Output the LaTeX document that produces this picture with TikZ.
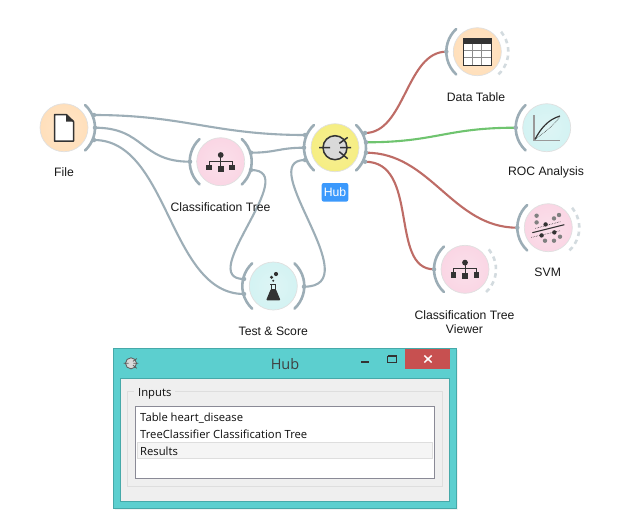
\documentclass[tikz,border=0pt]{standalone}
\usepackage{fontspec}
\setmainfont{Liberation Sans}
\newfontfamily\winfont{Open Sans}
\usetikzlibrary{backgrounds}
\definecolor{chan}{HTML}{9CADB6}
\definecolor{chanoff}{HTML}{D3DBDF}
\definecolor{lgrey}{HTML}{9DAEB7}
\definecolor{lred}{HTML}{BE6C66}
\definecolor{lgreen}{HTML}{6FC46F}
\definecolor{ink}{HTML}{333333}
\definecolor{winteal}{HTML}{5CCFCF}
\definecolor{winedge}{HTML}{46A9A9}
\definecolor{winbody}{HTML}{EFEFEF}
\definecolor{winline}{HTML}{DEDEDE}
\definecolor{listedge}{HTML}{8A8A96}
\definecolor{rowfill}{HTML}{F5F5F5}
\definecolor{closered}{HTML}{C75050}
\definecolor{hubblue}{HTML}{3B99FC}
\pgfdeclareradialshading{glowOrange}{\pgfpoint{0bp}{0bp}}{rgb(0bp)=(1,.90,.79); rgb(30bp)=(1,.87,.72); rgb(50bp)=(1,.79,.57); rgb(100bp)=(1,.79,.57)}
\pgfdeclareradialshading{glowPink}{\pgfpoint{0bp}{0bp}}{rgb(0bp)=(.98,.88,.92); rgb(30bp)=(.98,.83,.89); rgb(50bp)=(.97,.72,.82); rgb(100bp)=(.97,.72,.82)}
\pgfdeclareradialshading{glowTeal}{\pgfpoint{0bp}{0bp}}{rgb(0bp)=(.87,.96,.96); rgb(30bp)=(.82,.95,.95); rgb(50bp)=(.71,.92,.93); rgb(100bp)=(.71,.92,.93)}
\pgfdeclareradialshading{glowYellow}{\pgfpoint{0bp}{0bp}}{rgb(0bp)=(.97,.94,.58); rgb(30bp)=(.96,.93,.50); rgb(50bp)=(.94,.90,.36); rgb(100bp)=(.94,.90,.36)}
\tikzset{
  widget/.style={circle,minimum size=48pt,inner sep=0pt,draw=black!12,line width=.7pt,shading=#1},
  chanarc/.style={draw=chan,line width=2.6pt,line cap=round},
  chanidle/.style={draw=chanoff,line width=2.6pt,dash pattern=on 4.5pt off 4pt},
  port/.style={circle,fill=chan,minimum size=4.5pt,inner sep=0pt},
  lk/.style={line width=2.1pt,draw=#1},
  wlabel/.style={font=\fontsize{12.2}{14.4}\selectfont,text=black!90,align=center,inner sep=0pt},
  wintext/.style={font=\winfont\fontsize{11.25}{13}\selectfont,text=black!95,inner sep=0pt,anchor=base west},
}
% arcs around a widget: left / right / right idle
\newcommand{\leftchan}[1]{\draw[chanarc] ([shift={(133:31pt)}]#1.center) arc[start angle=133,end angle=227,radius=31pt];}
\newcommand{\rightchan}[1]{\draw[chanarc] ([shift={(-47:31pt)}]#1.center) arc[start angle=-47,end angle=47,radius=31pt];}
\newcommand{\idlechan}[1]{\draw[chanidle] ([shift={(-47:31pt)}]#1.center) arc[start angle=-47,end angle=47,radius=31pt];}
\newcommand{\treeicon}[1]{\begin{scope}[shift={(#1.center)}]
  \draw[ink,line width=.9pt] (0,-6.7) -- (0,7) (-11.5,5.7) -- (-11.5,-.7) -- (11.5,-.7) -- (11.5,5.7);
  \fill[ink] (0,-6.7) circle (2.9pt);
  \foreach \px/\py in {-11.5/5.7,0/7,11.5/5.7}{\fill[ink] (\px-2.9,\py-2.9) rectangle (\px+2.9,\py+2.9);}
\end{scope}}
\begin{document}
\begin{tikzpicture}[x=1pt,y=-1pt]
\useasboundingbox (0,0) rectangle (631,520);
% widgets
\node[widget=glowOrange] (file) at (64,127.7) {};
\node[widget=glowPink] (tree) at (220.7,161.7) {};
\node[widget=glowYellow] (hub) at (335,147.7) {};
\node[widget=glowOrange] (table) at (477.3,51.7) {};
\node[widget=glowTeal] (roc) at (546.7,127.7) {};
\node[widget=glowPink] (svm) at (548.3,227.7) {};
\node[widget=glowPink] (viewer) at (465,269.3) {};
\node[widget=glowTeal] (test) at (273.3,286) {};
% channels
\rightchan{file}
\leftchan{tree}\rightchan{tree}
\leftchan{hub}\rightchan{hub}
\leftchan{table}\idlechan{table}
\leftchan{roc}
\leftchan{svm}\idlechan{svm}
\leftchan{viewer}\idlechan{viewer}
\leftchan{test}\rightchan{test}
% ports
\node[port] (fileA) at (94,115) {};
\node[port] (fileB) at (95,127.7) {};
\node[port] (fileC) at (94,140) {};
\node[port] (treeIn) at (190,161.7) {};
\node[port] (treeA) at (251,152.7) {};
\node[port] (treeB) at (251,170) {};
\node[port] (hubA) at (305,135) {};
\node[port] (hubB) at (304,147.7) {};
\node[port] (hubC) at (305,160) {};
\node[port] (hubP) at (365,133) {};
\node[port] (hubQ) at (366,142.3) {};
\node[port] (hubR) at (366,152.7) {};
\node[port] (hubS) at (365,161.7) {};
\node[port] (testA) at (244,279) {};
\node[port] (testB) at (244,294) {};
\node[port] (testOut) at (304,286.7) {};
\node[port] (tableIn) at (446.3,51.7) {};
\node[port] (rocIn) at (515.7,127.7) {};
\node[port] (svmIn) at (517.3,227.7) {};
\node[port] (viewerIn) at (434,269.3) {};
% connectors
\begin{scope}[on background layer]
\fill[white] (0,0) rectangle (631,520);
\draw[lk=lgrey] (fileA.center) .. controls +(90,0) and +(-90,0) .. (hubA.center);
\draw[lk=lgrey] (fileB.center) .. controls +(50,0) and +(-50,0) .. (treeIn.center);
\draw[lk=lgrey] (fileC.center) .. controls +(75,0) and +(-75,0) .. (testB.center);
\draw[lk=lgrey] (treeA.center) .. controls +(25,0) and +(-25,0) .. (hubB.center);
\draw[lk=lgrey] (treeB.center) .. controls +(52,0) and +(-50,0) .. (testA.center);
\draw[lk=lgrey] (testOut.center) .. controls +(66,0) and +(-52,0) .. (hubC.center);
\draw[lk=lred] (hubP.center) .. controls +(40,0) and +(-40,0) .. (tableIn.center);
\draw[lk=lgreen] (hubQ.center) .. controls +(70,0) and +(-70,0) .. (rocIn.center);
\draw[lk=lred] (hubR.center) .. controls +(65,0) and +(-65,0) .. (svmIn.center);
\draw[lk=lred] (hubS.center) .. controls +(55,0) and +(-45,0) .. (viewerIn.center);
\end{scope}
% file icon
\begin{scope}[shift={(file.center)}]
  \draw[ink,fill=white,line width=1.5pt,line join=round] (-9.5,-13) -- (2.5,-13) -- (9.5,-6.2) -- (9.5,13.3) -- (-9.5,13.3) -- cycle;
  \fill[ink] (2.2,-13) -- (9.5,-6.2) -- (2.2,-6.2) -- cycle;
\end{scope}
% tree icons
\treeicon{tree}\treeicon{viewer}
% hub icon
\begin{scope}[shift={(hub.center)}]
  \draw[ink,fill=black!15,line width=1.5pt] (0,0) circle (12pt);
  \draw[ink,line width=1.5pt] (-16,0) -- (-5,0) (5,0) -- (16,0) (4.3,-4.3) -- (12.7,-10.3) (4.3,4) -- (12.7,11);
\end{scope}
% table icon
\begin{scope}[shift={(table.center)}]
  \fill[white] (-13.7,-13.4) rectangle (13.7,13.3);
  \draw[black!45,line width=.6pt] (-4.6,-8) -- (-4.6,13) (4.4,-8) -- (4.4,13) (-13.5,-1) -- (13.5,-1) (-13.5,6) -- (13.5,6);
  \draw[ink,line width=1pt] (-13.7,-13.4) rectangle (13.7,13.3);
  \fill[ink] (-13.7,-13.4) rectangle (13.7,-7.7);
\end{scope}
% ROC icon
\begin{scope}[shift={(roc.center)}]
  \draw[black!40,line width=1.1pt] (-12.7,-12.7) -- (-12.7,13) -- (13.3,13);
  \draw[ink,line width=.6pt,densely dotted] (-11.7,11.6) .. controls (-3,5) and (6,-1) .. (12.8,-10.5);
  \draw[ink,line width=1.2pt] (-11.7,11.6) .. controls (-6,1) and (1,-8) .. (13.3,-11.7);
\end{scope}
% SVM icon
\begin{scope}[shift={(svm.center)}]
  \foreach \px/\py in {-11.7/-12,-11.7/-5.3,5.7/-9.3,10.7/-12.7,-3.3/13,5.7/13,11.7/9}{\fill[black!50] (\px,\py) circle (2.2pt);}
  \foreach \px/\py in {-2.7/-3.3,-6.7/7.7,6/4.7}{\fill[ink] (\px,\py) circle (2.2pt);}
  \draw[ink,line width=1.1pt] (-16,5) -- (16,-3);
  \draw[ink,line width=.6pt,densely dotted] (-13,.7) -- (12,-6);
  \draw[ink,line width=.6pt,densely dotted] (-17,9.7) -- (12,3);
\end{scope}
% flask icon
\begin{scope}[shift={(test.center)}]
  \fill[ink] (-1.7,-8.7) circle (1.7pt);
  \fill[ink] (2.7,-12) circle (2.1pt);
  \fill[ink] (0,-5.3) circle (1.1pt);
  \draw[ink,line width=1pt] (-3,-1.5) -- (3,-1.5);
  \draw[ink,line width=1pt] (-2,-1.5) -- (-2,4) (2,-1.5) -- (2,4);
  \fill[ink,rounded corners=1pt] (-2.5,3) -- (2.5,3) -- (7.2,14.3) -- (-7.2,14.3) -- cycle;
\end{scope}
% captions
\node[wlabel] (capFile) at (64,172) {File};
\node[wlabel] (capTree) at (220.5,206.7) {Classification Tree};
\node[wlabel] (capTable) at (476,96.7) {Data Table};
\node[wlabel] (capRoc) at (546,172.7) {ROC Analysis};
\node[wlabel] (capSvm) at (547.7,272.7) {SVM};
\node[wlabel] (capViewer) at (464.5,322) {Classification Tree\\Viewer};
\node[wlabel] (capTest) at (273.3,331.7) {Test \& Score};
\node[fill=hubblue,rounded corners=2pt,minimum width=26.6pt,minimum height=18.6pt,inner sep=0pt,text=white,font=\fontsize{12.2}{14.4}\selectfont] (capHub) at (335,192.3) {Hub};
% window
\fill[black!5] (115,350) rectangle (458,510);
\draw[winedge,fill=winteal,line width=1pt] (113.5,348.5) rectangle (456,508);
\draw[winedge,fill=winbody,line width=1pt] (120.3,378.3) rectangle (449.3,501.7);
\draw[winline,line width=.8pt] (127.3,391.7) rectangle (442.7,486.3);
\fill[winbody] (134,386) rectangle (175,397);
\node[wintext] (winInputs) at (138,396) {Inputs};
\draw[listedge,fill=white,line width=.9pt] (135.3,406.3) rectangle (434.7,478.3);
\draw[winline,fill=rowfill,line width=.8pt] (137.3,442.3) rectangle (432.7,458.7);
\node[wintext] (rowA) at (140,421) {Table heart\_disease};
\node[wintext] (rowB) at (140,438) {TreeClassifier Classification Tree};
\node[wintext] (rowC) at (140,455) {Results};
\node[font=\winfont\fontsize{14.5}{17}\selectfont,text=black!75,inner sep=0pt] (winTitle) at (285,364) {Hub};
\fill[closered] (405,349) rectangle (450,369);
\draw[white,line width=1.5pt] (424.3,355.5) -- (431.7,362.5) (424.3,362.5) -- (431.7,355.5);
\draw[ink,line width=2pt] (361,361.7) -- (369.3,361.7);
\draw[ink,line width=1pt] (387.5,356) rectangle (396.5,362.5);
\draw[ink,line width=2pt] (387.5,356.3) -- (396.5,356.3);
\begin{scope}[shift={(131,363.3)},scale=.46]
  \draw[black!65,fill=black!15,line width=.8pt] (0,0) circle (12pt);
  \draw[black!65,line width=.8pt] (-16,0) -- (-5,0) (5,0) -- (16,0) (4.3,-4.3) -- (12.7,-10.3) (4.3,4) -- (12.7,11);
\end{scope}
\end{tikzpicture}
\end{document}
